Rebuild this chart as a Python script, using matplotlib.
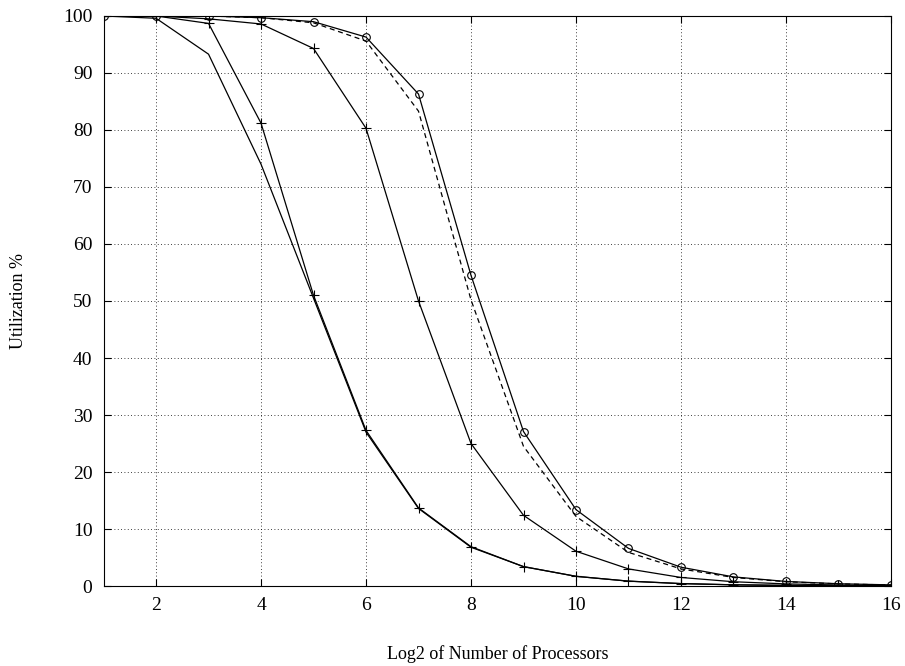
import matplotlib
matplotlib.use("Agg")
import matplotlib.pyplot as plt

plt.rcParams['font.family'] = ['Liberation Serif', 'DejaVu Serif']

# log2 of number of processors
procs = list(range(1, 17))

# utilization curves (%)
util_a = [100, 99.6, 93.3, 74.0, 50.5, 27.0, 13.6, 6.8, 3.4, 1.7, 0.85, 0.42, 0.21, 0.10, 0.05, 0.03]
util_b = [100, 100, 98.7, 81.2, 51.0, 27.3, 13.7, 6.9, 3.4, 1.7, 0.86, 0.43, 0.21, 0.11, 0.05, 0.03]
util_c = [100, 100, 99.5, 98.6, 94.3, 80.3, 50.0, 25.0, 12.4, 6.1, 3.0, 1.5, 0.75, 0.37, 0.18, 0.09]
util_d = [100, 100, 100, 99.7, 98.8, 95.6, 83.3, 50.2, 24.5, 12.2, 5.9, 3.0, 1.5, 0.75, 0.37, 0.18]
util_e = [100, 100, 100, 99.7, 99.0, 96.3, 86.3, 54.5, 27.1, 13.4, 6.6, 3.3, 1.6, 0.80, 0.40, 0.20]

fig = plt.figure(figsize=(9.05, 6.66), dpi=100)
ax = fig.add_axes([0.1144, 0.1201, 0.8701, 0.8559])

lw = 0.9
ax.plot(procs, util_a, color='black', linewidth=lw)
ax.plot(procs, util_b, color='black', linewidth=lw, marker='+', markersize=7, markeredgewidth=0.8)
ax.plot(procs, util_c, color='black', linewidth=lw, marker='+', markersize=7, markeredgewidth=0.8)
ax.plot(procs, util_d, color='black', linewidth=lw, linestyle=(0, (4, 3)))
ax.plot(procs, util_e, color='black', linewidth=lw, marker='o', markersize=5.5,
        fillstyle='none', markeredgewidth=0.8)

ax.set_xlim(1, 16)
ax.set_ylim(0, 100)
ax.set_xticks(range(2, 17, 2))
ax.set_yticks(range(0, 101, 10))
ax.grid(True, linestyle=(0, (1, 3)), color='black', linewidth=0.6)
ax.tick_params(direction='in', top=True, right=True, labelsize=14, length=5, pad=8)
for s in ax.spines.values():
    s.set_linewidth(0.8)

ax.set_xlabel('Log2 of Number of Processors', fontsize=13, labelpad=22)
ax.set_ylabel('Utilization %', fontsize=13, labelpad=26)

fig.savefig('out.png', dpi=100)
